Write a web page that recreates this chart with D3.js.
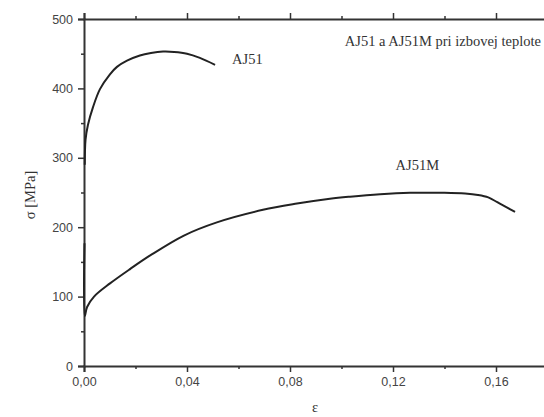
<!DOCTYPE html>
<html><head><meta charset="utf-8">
<script src="https://cdn.jsdelivr.net/npm/d3@7"></script>
<style>body{margin:0;background:#fff}svg{display:block}</style>
</head><body>
<svg id="c" width="544" height="417"></svg>
<script>
const xTicks = [0, 0.04, 0.08, 0.12, 0.16];
const xMinor = [0.02, 0.06, 0.10, 0.14];
const yTicks = [0, 100, 200, 300, 400, 500];
const yMinor = [50, 150, 250, 350, 450];
const aj51 = [[0.0003,290],[0.0006,326],[0.0015,347],[0.0035,373],[0.0062,399],[0.010,420],[0.0128,431],[0.0167,440],[0.0217,447.5],[0.026,451],[0.0307,453],[0.035,452.5],[0.040,450],[0.045,444],[0.0509,434]];
const aj51m = [[0.0002,177],[0.0003,72],[0.0012,85],[0.0039,100],[0.0101,119],[0.018,140],[0.026,160],[0.0388,188],[0.0516,207],[0.0695,225],[0.0827,234],[0.0955,241],[0.1033,244],[0.115,247.5],[0.1266,249.5],[0.14,249.5],[0.148,248.5],[0.153,246.5],[0.157,243],[0.1605,236],[0.164,229],[0.1674,222]];
const labels = [{t:"AJ51", x:0.0575, y:435},{t:"AJ51M", x:0.121, y:282}];
const title = "AJ51 a AJ51M pri izbovej teplote";

const svg = d3.select("#c");
const x = d3.scaleLinear().domain([0,0.18]).range([84,547.5]);
const y = d3.scaleLinear().domain([0,500]).range([366,19]);
const fmt = d => d3.format(".2f")(d).replace(".", ",");
const axCol = "#333";

function styleAxis(g, size){
  g.select(".domain").attr("stroke", axCol).attr("stroke-width", 2);
  g.selectAll(".tick line").attr("stroke", axCol).attr("stroke-width", size);
  g.selectAll(".tick text").attr("fill", "#444").attr("font-family","Liberation Sans, Arial, sans-serif").attr("font-size", 12.5);
}
const gb = svg.append("g").attr("transform","translate(0,366)")
  .call(d3.axisBottom(x).tickValues(xTicks).tickFormat(fmt).tickSizeOuter(0).tickSize(6).tickPadding(5));
styleAxis(gb, 1.5);
svg.append("g").attr("transform","translate(0,366)")
  .call(d3.axisBottom(x).tickValues(xMinor).tickFormat("").tickSizeOuter(0).tickSize(3))
  .call(g=>{g.select(".domain").remove(); g.selectAll("line").attr("stroke",axCol).attr("stroke-width",1.5);});
const gt = svg.append("g").attr("transform","translate(0,19)")
  .call(d3.axisTop(x).tickValues(xTicks).tickFormat("").tickSizeOuter(0).tickSize(6));
styleAxis(gt, 1.5);
svg.append("g").attr("transform","translate(0,19)")
  .call(d3.axisTop(x).tickValues(xMinor).tickFormat("").tickSizeOuter(0).tickSize(3))
  .call(g=>{g.select(".domain").remove(); g.selectAll("line").attr("stroke",axCol).attr("stroke-width",1.5);});
const gl = svg.append("g").attr("transform","translate(84,0)")
  .call(d3.axisLeft(y).tickValues(yTicks).tickSizeOuter(0).tickSize(6).tickPadding(5));
styleAxis(gl, 1.5);
svg.append("g").attr("transform","translate(84,0)")
  .call(d3.axisLeft(y).tickValues(yMinor).tickFormat("").tickSizeOuter(0).tickSize(3))
  .call(g=>{g.select(".domain").remove(); g.selectAll("line").attr("stroke",axCol).attr("stroke-width",1.5);});

const line = d3.line().x(d=>x(d[0])).y(d=>y(d[1])).curve(d3.curveCatmullRom.alpha(0.5));
[aj51, aj51m].forEach(s => svg.append("path").attr("d", line(s)).attr("fill","none")
  .attr("stroke","#222").attr("stroke-width",2));

const serif = "Liberation Serif, Times New Roman, serif";
labels.forEach(l => svg.append("text").attr("x", x(l.x)).attr("y", y(l.y)).text(l.t)
  .attr("font-family", serif).attr("font-size", 14.5).attr("fill","#333"));
svg.append("text").attr("x", 541).attr("y", 46).attr("text-anchor","end").text(title)
  .attr("font-family", serif).attr("font-size", 14.5).attr("fill","#333");
svg.append("text").attr("transform","translate(35,195) rotate(-90)").attr("text-anchor","middle")
  .text("σ [MPa]").attr("font-family", serif).attr("font-size", 14.5).attr("fill","#333");
svg.append("text").attr("x", 315).attr("y", 412).attr("text-anchor","middle")
  .text("ε").attr("font-family", serif).attr("font-size", 14.5).attr("fill","#333");
</script>
</body></html>
